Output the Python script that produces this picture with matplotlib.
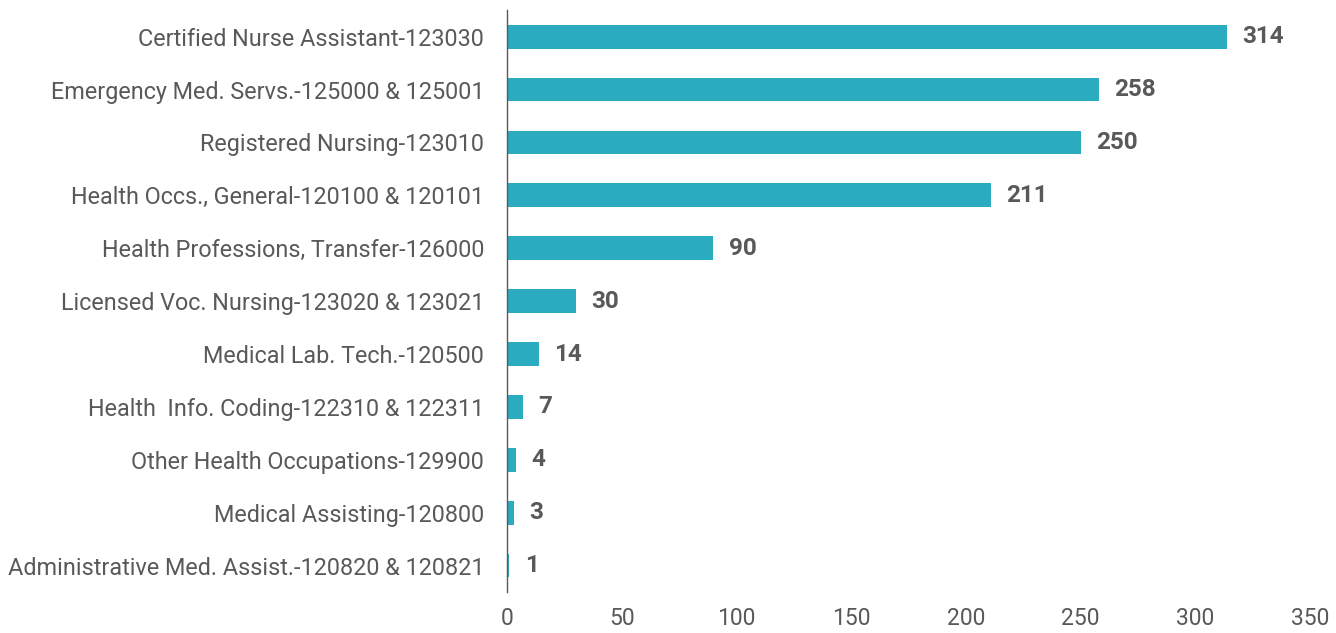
import matplotlib
matplotlib.use("Agg")
import matplotlib.pyplot as plt

programs = [
    "Certified Nurse Assistant-123030",
    "Emergency Med. Servs.-125000 & 125001",
    "Registered Nursing-123010",
    "Health Occs., General-120100 & 120101",
    "Health Professions, Transfer-126000",
    "Licensed Voc. Nursing-123020 & 123021",
    "Medical Lab. Tech.-120500",
    "Health  Info. Coding-122310 & 122311",
    "Other Health Occupations-129900",
    "Medical Assisting-120800",
    "Administrative Med. Assist.-120820 & 120821",
]
counts = [314, 258, 250, 211, 90, 30, 14, 7, 4, 3, 1]
x_ticks = [0, 50, 100, 150, 200, 250, 300, 350]

bar_color = "#2AABBF"
text_color = "#595959"

plt.rcParams['font.family'] = ['Roboto', 'DejaVu Sans']

fig = plt.figure(figsize=(13.36, 6.33), dpi=100)
ax = fig.add_axes([0.3795, 0.0648, 0.601, 0.919])

y = list(range(len(programs)))
ax.barh(y, counts, height=0.45, color=bar_color)
ax.set_yticks(y)
ax.set_yticklabels(programs, fontsize=16.8, color=text_color)
ax.set_ylim(len(programs) - 0.5, -0.5)
ax.set_xlim(0, 350)
ax.set_xticks(x_ticks)
ax.set_xticklabels([str(t) for t in x_ticks], fontsize=16.5, color=text_color)
ax.tick_params(axis='both', length=0)
ax.tick_params(axis='y', pad=16.5)
ax.tick_params(axis='x', pad=11)

for s in ['top', 'right', 'bottom']:
    ax.spines[s].set_visible(False)
ax.spines['left'].set_color(text_color)
ax.spines['left'].set_linewidth(1)

# value labels next to each bar
for yi, v in zip(y, counts):
    ax.annotate(str(v), (v, yi), xytext=(11, 0), textcoords='offset points',
                va='center', ha='left', fontsize=17.5, fontweight='bold', color=text_color)

fig.savefig("out.png", dpi=100)
